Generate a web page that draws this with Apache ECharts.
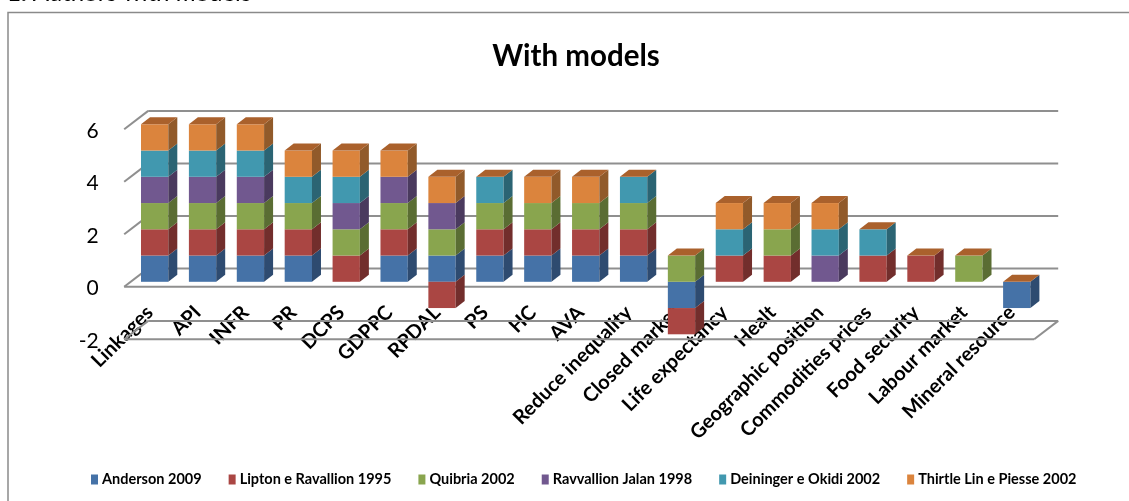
<!DOCTYPE html>
<html>
<head>
<meta charset="utf-8">
<script src="https://cdn.jsdelivr.net/npm/echarts@6/dist/echarts.min.js"></script>
<style>
  html, body { margin: 0; padding: 0; background: #fff; }
  #chart { width: 1129px; height: 501px; }
</style>
</head>
<body>
<div id="chart"></div>
<script>
// categorie (asse x)
var categories = ['Linkages', 'API', 'INFR', 'PR', 'DCPS', 'GDPPC', 'RPDAL', 'PS', 'HC', 'AVA',
  'Reduce inequality', 'Closed market', 'Life expectancy', 'Healt', 'Geographic position',
  'Commodities prices', 'Food security', 'Labour market', 'Mineral resource'];

// valori per autore
var anderson  = [1, 1, 1, 1, 0, 1, 1, 1, 1, 1, 1, -1, 0, 0, 0, 0, 0, 0, -1];
var lipton    = [1, 1, 1, 1, 1, 1, -1, 1, 1, 1, 1, -1, 1, 1, 0, 1, 1, 0, 0];
var quibria   = [1, 1, 1, 1, 1, 1, 1, 1, 1, 1, 1, 1, 0, 1, 0, 0, 0, 1, 0];
var ravallion = [1, 1, 1, 0, 1, 1, 1, 0, 0, 0, 0, 0, 0, 0, 1, 0, 0, 0, 0];
var deininger = [1, 1, 1, 1, 1, 0, 0, 1, 0, 0, 1, 0, 1, 0, 1, 1, 0, 0, 0];
var thirtle   = [1, 1, 1, 1, 1, 1, 1, 0, 1, 1, 0, 0, 1, 1, 1, 0, 0, 0, 0];

var seriesNames = ['Anderson 2009', 'Lipton e Ravallion 1995', 'Quibria 2002',
  'Ravvallion Jalan 1998', 'Deininger e Okidi 2002', 'Thirtle Lin e Piesse 2002'];

// tick asse y
var yTicks = [-2, 0, 2, 4, 6];

var allValues = [anderson, lipton, quibria, ravallion, deininger, thirtle];
var frontColors = ['#4572A7', '#AA4643', '#89A54E', '#71588F', '#4198AF', '#DB843D'];
var sideColors  = ['#2E4B70', '#722E2C', '#5A6D33', '#4A3A5E', '#2B6473', '#915A2A'];
var topColor = '#AA612C';
var gridColor = '#8f8f8f';
var FONT = 'Lato';

// profondita' 3D: fronte pavimento / parete di fondo / colonna
var F = [-6.5, 4.9], B = [17.5, -13.4], D = [9, -7];

// calcolo pile (positivi e negativi separati)
var pos = categories.map(function () { return 0; });
var neg = categories.map(function () { return 0; });
var stacked = allValues.map(function (vals) {
  var out = [];
  vals.forEach(function (v, i) {
    if (v > 0) { out.push([i, pos[i], pos[i] + v]); pos[i] += v; }
    else if (v < 0) { out.push([i, neg[i] + v, neg[i]]); neg[i] += v; }
  });
  return out;
});
var tops = categories.map(function (c, i) { return [i, pos[i]]; });

function barItem(k) {
  return function (params, api) {
    var cat = api.value(0), b = api.value(1), t = api.value(2);
    var pb = api.coord([cat, b]), pt = api.coord([cat, t]);
    var bw = api.size([1, 0])[0] * 0.57;
    var x1 = pb[0] - bw / 2, x2 = pb[0] + bw / 2;
    return {
      type: 'group',
      children: [
        { type: 'rect', shape: { x: x1, y: pt[1], width: bw, height: pb[1] - pt[1] },
          style: { fill: frontColors[k] } },
        { type: 'polygon', shape: { points: [[x2, pt[1]], [x2 + D[0], pt[1] + D[1]], [x2 + D[0], pb[1] + D[1]], [x2, pb[1]]] },
          style: { fill: sideColors[k] } }
      ]
    };
  };
}

var series = [];

// griglia 3D (pareti e pavimento)
series.push({
  type: 'custom',
  name: 'grid3d',
  silent: true,
  z: 1,
  data: yTicks.map(function (v) { return [0, v]; }),
  renderItem: function (params, api) {
    var v = api.value(1);
    var y = api.coord([0, v])[1];
    var L = params.coordSys.x, R = params.coordSys.x + params.coordSys.width;
    var st = { stroke: gridColor, lineWidth: 2 };
    var ch = [
      { type: 'line', shape: { x1: L + B[0], y1: y + B[1], x2: R + B[0], y2: y + B[1] }, style: st },
      { type: 'line', shape: { x1: L + F[0], y1: y + F[1], x2: L + B[0], y2: y + B[1] }, style: st }
    ];
    if (v <= 0) {
      ch.push({ type: 'line', shape: { x1: L + F[0], y1: y + F[1], x2: R + F[0], y2: y + F[1] }, style: st });
    }
    if (v === yTicks[0]) {
      ch.push({ type: 'line', shape: { x1: R + F[0], y1: y + F[1], x2: R + B[0], y2: y + B[1] }, style: st });
    }
    return { type: 'group', children: ch };
  }
});

seriesNames.forEach(function (name, k) {
  series.push({
    type: 'custom',
    name: name,
    z: 2,
    itemStyle: { color: frontColors[k] },
    data: stacked[k],
    renderItem: barItem(k)
  });
});

// facce superiori delle pile
series.push({
  type: 'custom',
  name: 'tops',
  z: 3,
  silent: true,
  data: tops,
  renderItem: function (params, api) {
    var p = api.coord([api.value(0), api.value(1)]);
    var bw = api.size([1, 0])[0] * 0.57;
    var x1 = p[0] - bw / 2, x2 = p[0] + bw / 2, y = p[1];
    return { type: 'polygon', shape: { points: [[x1, y], [x2, y], [x2 + D[0], y + D[1]], [x1 + D[0], y + D[1]]] },
      style: { fill: topColor } };
  }
});

var option = {
  animation: false,
  backgroundColor: '#fff',
  title: {
    text: 'With models',
    left: 571,
    top: 36,
    textAlign: 'center',
    textStyle: { fontFamily: FONT, fontWeight: 'bold', fontSize: 29.5, color: '#000' }
  },
  graphic: [
    { type: 'rect', shape: { x: 8, y: 12.5, width: 1200, height: 600 },
      style: { fill: 'none', stroke: '#8a8a8a', lineWidth: 1.5 } },
    { type: 'text', left: 7, top: -19,
      style: { text: '{b|1.} Authors with models', fontFamily: FONT, fontSize: 24, fill: '#000',
        rich: { b: { fontWeight: 'bold', fontFamily: FONT, fontSize: 24 } } } }
  ],
  legend: {
    data: seriesNames,
    top: 467,
    left: 86,
    icon: 'rect',
    itemWidth: 7,
    itemHeight: 10,
    itemGap: 27,
    textStyle: { fontFamily: FONT, fontWeight: 'bold', fontSize: 14.5, color: '#000', padding: [0, 0, 0, -1] }
  },
  grid: { left: 130.7, width: 910, top: 124.3, height: 210 },
  xAxis: {
    type: 'category',
    data: categories,
    axisLine: { show: false },
    axisTick: { show: false },
    splitLine: { show: false },
    axisLabel: {
      interval: 0,
      rotate: 45,
      margin: -30,
      padding: [0, 7, 0, 0],
      fontFamily: FONT,
      fontWeight: 'bold',
      fontSize: 20,
      color: '#000'
    }
  },
  yAxis: {
    type: 'value',
    min: -2,
    max: 6,
    interval: 2,
    axisLine: { show: false },
    axisTick: { show: false },
    splitLine: { show: false },
    axisLabel: { margin: 32, fontFamily: FONT, fontSize: 21, color: '#000', verticalAlign: 'top', lineHeight: 13 }
  },
  series: series
};

var chart = echarts.init(document.getElementById('chart'));
chart.setOption(option);
</script>
</body>
</html>
